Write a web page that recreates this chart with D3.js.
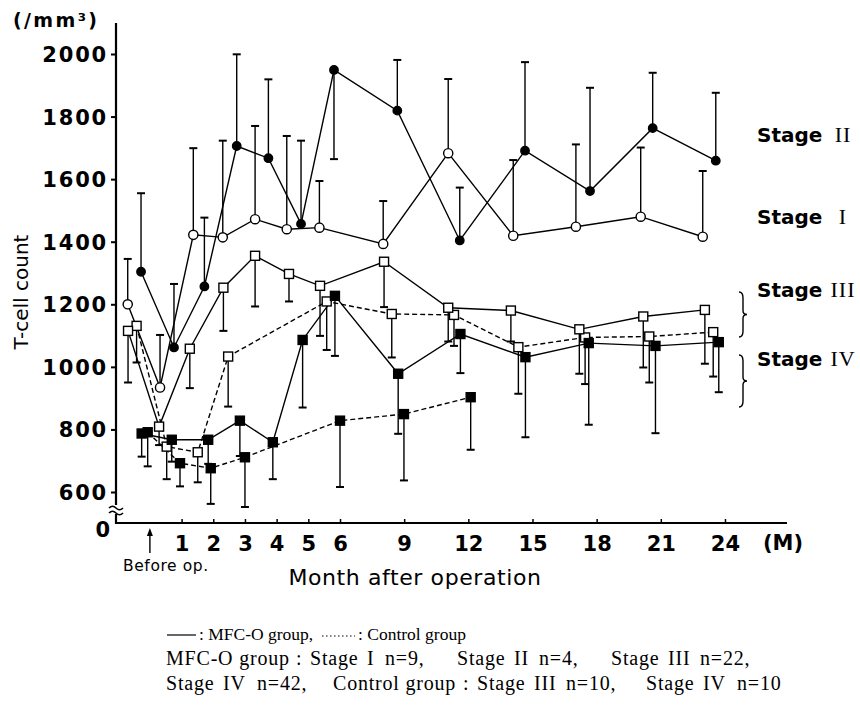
<!DOCTYPE html>
<html lang="en">
<head>
<meta charset="UTF-8">
<title>T-cell count after operation</title>
<script src="https://d3js.org/d3.v7.min.js"></script>
<style>
  body { margin: 0; background: #fff; }
  svg { display: block; }
</style>
</head>
<body>
<svg id="chart" width="860" height="712"></svg>
<script>
// x = month after operation (0 = before op.), count = T-cells /mm3, err = end of SD bar
const stage1Month = [-0.7, 0.32, 1.37, 2.3, 3.32, 4.32, 5.35, 8.02, 11.06, 14.1, 17.03, 20.06, 22.96];
const stage1Count = [1200, 934, 1422, 1414, 1472, 1440, 1445, 1393, 1683, 1419, 1448, 1480, 1416];
const stage1Err   = [1345, 1102, 1699, 1723, 1770, 1738, 1594, 1530, 1920, 1661, 1711, 1701, 1626];

const stage2Month = [-0.28, 0.76, 1.72, 2.74, 3.74, 4.77, 5.81, 8.68, 11.6, 14.65, 17.69, 20.62, 23.57];
const stage2Count = [1304, 1062, 1257, 1706, 1667, 1457, 1949, 1819, 1404, 1691, 1562, 1763, 1659];
const stage2Err   = [1555, 1265, 1477, 1999, 1919, 1723, 1664, 1981, 1573, 1974, 1892, 1940, 1876];

const stage3Month = [-0.69, 0.29, 1.26, 2.32, 3.32, 4.39, 5.37, 8.06, 11.06, 13.99, 17.19, 20.18, 23.06];
const stage3Count = [1115, 809, 1058, 1253, 1355, 1297, 1259, 1336, 1189, 1180, 1120, 1161, 1182];
const stage3Err   = [950, 750, 932, 1115, 1193, 1209, 1099, 1191, 1081, 1081, 978, 998, 1010];

const stage3CtrlMonth = [-0.42, 0.53, 1.51, 2.47, 5.58, 8.42, 11.33, 14.34, 17.46, 20.46, 23.45];
const stage3CtrlCount = [1131, 745, 727, 1033, 1209, 1169, 1166, 1063, 1094, 1097, 1111];
const stage3CtrlErr   = [1014, 641, 631, 873, 1054, 1030, 1067, 914, 945, 950, 969];

const stage4Month = [-0.26, 0.69, 1.84, 2.84, 3.88, 4.82, 5.84, 8.72, 11.63, 14.67, 17.63, 20.75, 23.71];
const stage4Count = [787, 767, 767, 828, 759, 1086, 1227, 978, 1105, 1031, 1076, 1067, 1079];
const stage4Err   = [713, 697, 690, 715, 641, 870, 1035, 786, 980, 775, 815, 788, 919];

const stage4CtrlMonth = [-0.07, 0.95, 1.92, 3.0, 6.0, 8.99, 12.11];
const stage4CtrlCount = [791, 692, 676, 711, 828, 849, 903];
const stage4CtrlErr   = [682, 618, 562, 552, 616, 637, 735];

const yTicks = [600, 800, 1000, 1200, 1400, 1600, 1800, 2000];
const xTicks = [1, 2, 3, 4, 5, 6, 9, 12, 15, 18, 21, 24];

const stageLabels = [
  { stage: "II", at: 1740 },
  { stage: "I", at: 1480 },
  { stage: "III", at: 1245 },
  { stage: "IV", at: 1025 }
];

// footnote pieces: [text, x]
const noteLine2 = [["MFC-O group", 166], [":", 296], ["Stage", 310], ["I", 367], ["n=9,", 385],
  ["Stage", 457], ["II", 514], ["n=4,", 539], ["Stage", 611], ["III", 668], ["n=22,", 700]];
const noteLine3 = [["Stage", 166], ["IV", 223], ["n=42,", 257], ["Control group", 333],
  [":", 463], ["Stage", 477], ["III", 534], ["n=10,", 566], ["Stage", 646], ["IV", 703], ["n=10", 737]];

const series = [
  { month: stage1Month, count: stage1Count, err: stage1Err, shape: "circle", filled: false, dashed: false },
  { month: stage2Month, count: stage2Count, err: stage2Err, shape: "circle", filled: true, dashed: false },
  { month: stage3CtrlMonth, count: stage3CtrlCount, err: stage3CtrlErr, shape: "square", filled: false, dashed: true },
  { month: stage4CtrlMonth, count: stage4CtrlCount, err: stage4CtrlErr, shape: "square", filled: true, dashed: true },
  { month: stage3Month, count: stage3Count, err: stage3Err, shape: "square", filled: false, dashed: false },
  { month: stage4Month, count: stage4Count, err: stage4Err, shape: "square", filled: true, dashed: false }
];

const svg = d3.select("#chart");
svg.append("rect").attr("width", 860).attr("height", 712).attr("fill", "#fff");

// month axis is stretched between before op. and 6 M
const x = d3.scaleLinear().domain([-1.07, 6, 26.9]).range([116, 340, 787]);
const y = d3.scaleLinear().domain([600, 2000]).range([492, 54]);
const baseY = 523;
const sans = "DejaVu Sans";
const serif = "Liberation Serif";

// axes
const yAxis = svg.append("g").attr("transform", "translate(116,0)")
  .call(d3.axisLeft(y).tickValues(yTicks).tickFormat(d3.format("d")).tickSize(5).tickPadding(3));
yAxis.select(".domain").remove();
yAxis.selectAll("line").attr("stroke-width", 2);
yAxis.selectAll("text").attr("font-family", sans).attr("font-weight", "bold")
  .attr("font-size", 21).attr("letter-spacing", 1.8).attr("dy", "0.36em");

const xAxis = svg.append("g").attr("transform", `translate(0,${baseY})`)
  .call(d3.axisBottom(x).tickValues(xTicks).tickSize(-4).tickPadding(0));
xAxis.select(".domain").remove();
xAxis.selectAll("line").attr("stroke-width", 1.5);
xAxis.selectAll("text").attr("font-family", sans).attr("font-weight", "bold")
  .attr("font-size", 21).attr("y", 28).attr("dy", 0);

svg.append("line").attr("x1", 116).attr("x2", 116).attr("y1", 23).attr("y2", baseY + 1)
  .attr("stroke", "#000").attr("stroke-width", 2.2);
svg.append("line").attr("x1", 115).attr("x2", x(26.9)).attr("y1", baseY).attr("y2", baseY)
  .attr("stroke", "#000").attr("stroke-width", 2.2);

// axis break
svg.append("rect").attr("x", 112).attr("y", 505).attr("width", 10).attr("height", 9).attr("fill", "#fff");
[507, 512].forEach(yy => {
  svg.append("path").attr("d", `M109,${yy + 1} q3.5,-3.5 7,0 t7,0`)
    .attr("fill", "none").attr("stroke", "#000").attr("stroke-width", 1.6);
});
svg.append("text").attr("x", 110).attr("y", 537).attr("text-anchor", "end")
  .attr("font-family", sans).attr("font-weight", "bold").attr("font-size", 21).text("0");

svg.append("text").attr("x", 13).attr("y", 27).attr("font-family", sans).attr("font-weight", "bold")
  .attr("font-size", 19).attr("textLength", 84).attr("lengthAdjust", "spacing").text("(/mm³)");

svg.append("text").attr("transform", "translate(28,292) rotate(-90)").attr("text-anchor", "middle")
  .attr("font-family", sans).attr("font-size", 20).text("T-cell count");

svg.append("text").attr("x", 415).attr("y", 585).attr("text-anchor", "middle")
  .attr("font-family", sans).attr("font-size", 22).attr("letter-spacing", 0.6).text("Month after operation");

svg.append("text").attr("x", 763).attr("y", 550).attr("font-family", sans).attr("font-weight", "bold")
  .attr("font-size", 21).text("(M)");

// before op. arrow
svg.append("line").attr("x1", x(0)).attr("x2", x(0)).attr("y1", 533).attr("y2", 553)
  .attr("stroke", "#000").attr("stroke-width", 1.4);
svg.append("path").attr("d", `M${x(0)},528 l-3,8 l6,0 z`).attr("fill", "#000");
svg.append("text").attr("x", x(0) + 16).attr("y", 571).attr("text-anchor", "middle")
  .attr("font-family", sans).attr("font-size", 15.5).attr("letter-spacing", 0.6).text("Before op.");

// lines
const line = d3.line().x(d => x(d[0])).y(d => y(d[1]));
series.forEach(s => {
  const pts = s.month.map((m, i) => [m, s.count[i]]);
  svg.append("path").datum(pts).attr("d", line).attr("fill", "none")
    .attr("stroke", "#000").attr("stroke-width", 1.4)
    .attr("stroke-dasharray", s.dashed ? "5,3" : null);
});

// SD bars
series.forEach(s => {
  const g = svg.append("g").attr("stroke", "#000").attr("stroke-width", 1.4);
  s.month.forEach((m, i) => {
    g.append("line").attr("x1", x(m)).attr("x2", x(m)).attr("y1", y(s.count[i])).attr("y2", y(s.err[i]));
    g.append("line").attr("x1", x(m) - 4).attr("x2", x(m) + 4).attr("y1", y(s.err[i])).attr("y2", y(s.err[i]))
      .attr("stroke-width", 2);
  });
});

// markers
series.forEach(s => {
  const g = svg.append("g");
  s.month.forEach((m, i) => {
    const fill = s.filled ? "#000" : "#fff";
    if (s.shape === "circle") {
      g.append("circle").attr("cx", x(m)).attr("cy", y(s.count[i])).attr("r", s.filled ? 4.2 : 4.6)
        .attr("fill", fill).attr("stroke", "#000").attr("stroke-width", 1.4);
    } else {
      g.append("rect").attr("x", x(m) - 4.5).attr("y", y(s.count[i]) - 4.5).attr("width", 9).attr("height", 9)
        .attr("fill", fill).attr("stroke", "#000").attr("stroke-width", 1.4);
    }
  });
});

// stage labels and braces
stageLabels.forEach(l => {
  svg.append("text").attr("x", 757).attr("y", y(l.at) + 7).attr("font-family", sans)
    .attr("font-weight", "bold").attr("font-size", 20).text("Stage");
  svg.append("text").attr("x", 843).attr("y", y(l.at) + 7).attr("text-anchor", "middle")
    .attr("font-family", serif).attr("font-size", 22).attr("letter-spacing", 1).text(l.stage);
});
function brace(x0, y0, y1) {
  const ym = (y0 + y1) / 2;
  return `M${x0 - 4},${y0} Q${x0},${y0} ${x0},${y0 + 6} L${x0},${ym - 4} Q${x0},${ym} ${x0 + 4},${ym}` +
    ` Q${x0},${ym} ${x0},${ym + 4} L${x0},${y1 - 6} Q${x0},${y1} ${x0 - 4},${y1}`;
}
[[292, 337], [355, 407]].forEach(b => {
  svg.append("path").attr("d", brace(743, b[0], b[1])).attr("fill", "none")
    .attr("stroke", "#000").attr("stroke-width", 1.4);
});

// footnote
svg.append("line").attr("x1", 167).attr("x2", 196).attr("y1", 635).attr("y2", 635)
  .attr("stroke", "#000").attr("stroke-width", 1.2);
svg.append("text").attr("x", 199).attr("y", 640).attr("font-family", serif).attr("font-size", 17.5)
  .text(": MFC-O group,");
svg.append("line").attr("x1", 322).attr("x2", 355).attr("y1", 636).attr("y2", 636)
  .attr("stroke", "#000").attr("stroke-width", 1.2).attr("stroke-dasharray", "1.5,2.5");
svg.append("text").attr("x", 358).attr("y", 640).attr("font-family", serif).attr("font-size", 17.5)
  .text(": Control group");

[[noteLine2, 665], [noteLine3, 690]].forEach(([pieces, yy]) => {
  pieces.forEach(p => {
    svg.append("text").attr("x", p[1]).attr("y", yy).attr("font-family", serif)
      .attr("font-size", 20).attr("letter-spacing", 0.8).text(p[0]);
  });
});
</script>
</body>
</html>
